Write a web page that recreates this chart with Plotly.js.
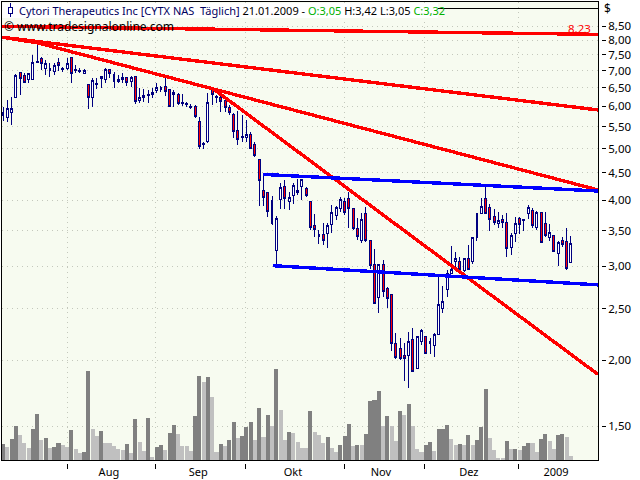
<!DOCTYPE html>
<html><head><meta charset="utf-8">
<script src="https://cdn.plot.ly/plotly-3.0.1.min.js"></script>
<style>html,body{margin:0;padding:0;background:#fff}#c{width:640px;height:480px}
.main-svg .trace path, .main-svg .shapelayer path{shape-rendering:crispEdges !important}</style>
</head><body><div id="c"></div>
<script>
const open_ = [5.84,5.73,5.84,6.25,6.95,6.85,6.75,6.75,7.30,7.40,
7.08,7.00,6.98,7.26,7.07,7.06,7.43,7.04,7.02,6.93,
6.60,6.25,6.64,6.78,6.73,7.03,6.89,6.75,6.73,6.81,
6.68,6.83,6.17,6.28,6.32,6.31,6.42,6.50,6.55,6.47,
6.31,6.33,6.11,6.08,6.01,6.01,5.63,5.12,5.15,6.42,
6.26,6.24,6.15,5.98,5.80,5.40,5.27,5.24,5.32,5.08,
4.77,4.16,4.14,4.00,3.21,4.01,4.24,3.97,4.08,4.16,
4.24,4.21,3.98,3.59,3.44,3.44,3.46,3.60,3.74,3.85,
3.98,4.02,3.85,3.54,3.36,3.77,3.35,3.02,2.62,3.02,
2.73,2.66,2.15,2.10,2.04,2.04,2.19,1.93,2.17,2.21,
2.17,2.13,2.23,2.50,2.72,2.91,3.06,3.06,2.95,3.10,
3.07,3.40,3.78,4.03,3.87,3.72,3.62,3.68,3.63,3.25,
3.46,3.70,3.68,3.78,3.83,3.55,3.79,3.62,3.40,3.43,
3.17,3.36,3.34,3.05];
const high = [5.98,6.17,6.26,6.91,6.98,6.95,6.95,7.50,7.90,7.45,
7.34,7.23,7.23,7.40,7.12,7.40,7.45,7.18,7.08,7.06,
6.61,6.78,6.78,6.85,7.08,7.05,6.98,6.88,6.93,6.83,
6.85,6.85,6.51,6.46,6.44,6.51,6.63,6.55,6.83,6.48,
6.44,6.35,6.33,6.13,6.07,6.03,5.74,5.15,6.35,6.48,
6.31,6.40,6.22,6.04,5.82,5.88,5.78,5.66,5.37,5.14,
4.78,4.46,4.15,4.07,3.73,4.30,4.37,4.15,4.30,4.39,
4.39,4.24,3.99,3.77,3.51,3.62,3.62,3.91,3.89,4.05,
4.03,4.15,3.86,3.70,3.78,3.88,3.35,3.23,3.02,3.08,
2.75,2.66,2.25,2.20,2.15,2.26,2.30,2.21,2.29,2.21,
2.20,2.25,2.86,2.76,2.96,3.28,3.19,3.12,3.10,3.29,
3.41,3.77,4.03,4.25,3.94,3.84,3.79,3.75,3.78,3.47,
3.71,3.72,3.69,3.91,3.87,3.82,3.80,3.80,3.60,3.43,
3.35,3.41,3.55,3.42];
const low = [5.64,5.62,5.54,6.22,6.31,6.63,6.63,6.73,7.23,7.03,
6.88,6.83,6.88,7.01,6.98,7.03,6.63,6.95,6.93,6.91,
5.93,5.99,6.48,6.51,6.63,6.78,6.51,6.65,6.65,6.55,
6.53,6.07,6.09,6.13,6.09,6.22,6.35,6.40,6.28,5.98,
5.99,6.04,6.01,5.98,5.93,5.71,5.00,5.00,5.13,6.04,
6.09,5.87,5.87,5.78,5.24,5.08,5.14,5.14,4.99,4.82,
3.90,3.90,3.71,3.59,3.00,3.84,3.84,3.83,3.94,4.09,
4.00,4.06,3.52,3.41,3.31,3.29,3.25,3.47,3.67,3.80,
3.75,3.55,3.52,3.36,3.32,3.33,2.97,2.55,2.45,2.63,
2.51,2.08,2.01,2.00,1.83,1.77,1.90,1.92,2.13,2.05,
2.05,2.03,2.23,2.45,2.63,2.90,2.95,2.95,2.93,2.95,
3.03,3.35,3.77,3.77,3.50,3.59,3.54,3.55,3.13,3.15,
3.33,3.45,3.50,3.68,3.55,3.52,3.33,3.41,3.35,3.19,
3.00,3.27,2.96,3.05];
const close_ = [5.78,5.95,5.95,6.85,6.78,6.65,6.91,7.26,7.27,7.23,
7.23,7.08,7.18,7.16,7.04,7.23,6.93,7.01,6.99,7.00,
6.25,6.70,6.61,6.83,7.05,6.93,6.68,6.68,6.80,6.66,
6.81,6.13,6.24,6.25,6.29,6.38,6.51,6.47,6.40,5.99,
6.38,6.07,6.08,6.05,5.98,5.74,5.04,5.09,6.11,6.31,
6.23,6.13,5.97,5.84,5.38,5.21,5.24,5.32,5.01,4.85,
4.35,4.04,3.80,3.61,3.69,4.23,4.03,4.05,4.26,4.14,
4.37,4.08,3.55,3.52,3.42,3.36,3.58,3.79,3.87,4.01,
3.79,3.85,3.54,3.41,3.67,3.35,3.01,2.56,3.02,2.69,
2.61,2.15,2.02,2.01,2.01,2.17,1.90,2.21,2.27,2.06,
2.15,2.23,2.54,2.58,2.91,2.96,3.10,2.96,3.10,2.96,
3.40,3.77,3.89,3.78,3.67,3.63,3.66,3.63,3.24,3.43,
3.62,3.60,3.66,3.88,3.58,3.79,3.33,3.43,3.48,3.20,
3.33,3.30,2.97,3.32];
// volume readings in arbitrary units, D = dark bar, L = light bar
const volume = [48,40,63,102,75,51,36,93,138,60,66,36,39,51,45,39,90,33,21,24,267,93,72,87,51,51,42,33,30,48,
21,123,54,27,126,9,39,45,30,81,105,78,42,42,27,132,252,234,249,189,24,48,42,60,114,66,72,99,114,60,
156,69,135,102,273,150,60,84,81,54,36,36,147,84,75,51,69,36,24,45,72,108,42,45,45,78,177,180,207,102,
132,102,57,147,135,168,102,33,24,45,54,27,93,93,105,63,45,48,45,75,45,60,99,213,66,30,6,6,57,33,
33,30,42,51,51,24,63,78,57,33,75,78,69,12];
const volumeTone = "DLDDLLLDDLDLDDLLDLLDDLLDLLLLLDLDLLDLDDLDDLLLLDDLDLLDLDDLDDDLDLDLDLLDLLLLDLLLDLLDDDLDLDDDDLDLLDLDLLLDDLDDDLLDLDLDDDLLLLDLDLDDLLDDLLDDLL";
const priceTicks = [8.5,8,7.5,7,6.5,6,5.5,5,4.5,4,3.5,3,2.5,2,1.5];
const priceLabels = ["8,50","8,00","7,50","7,00","6,50","6,00","5,50","5,00","4,50","4,00","3,50","3,00","2,50","2,00","1,50"];
const monthStarts = [15,35.8,56.9,79.9,98.8,120.8];
const monthCentres = [24.8,45.7,67.9,88.5,109.1,129.5];
const monthLabels = ["Aug","Sep","Okt","Nov","Dez","2009"];
const redLineA = {x:[-0.23,139.3], y:[8.49,8.20]};
const redLineB = {x:[-0.23,139.3], y:[8.10,5.91]};
const redLineC = {x:[-0.23,8.2,139.3], y:[8.10,7.90,4.18]};
const redLineD = {x:[49.3,139.3], y:[6.47,1.88]};
const blueLineA = {x:[60.8,139.3], y:[4.47,4.16]};
const blueLineB = {x:[63.2,139.3], y:[3.01,2.77]};

const index = open_.map((_, i) => i);
const xRange = [-0.234, 139.34];
const yRange = [0.1129, 0.9747];
const FONT = "'Noto Sans', Tahoma, sans-serif";
const px = v => (v - 2) / 596, py = v => (460 - v) / 458;
const line = (l, c, w) => ({type:'scatter', mode:'lines', x:l.x, y:l.y, xaxis:'x2', yaxis:'y2',
  line:{color:c, width:w}, hoverinfo:'skip', showlegend:false});

const traces = [
  {type:'bar', x:index, y:volume, width:0.95, xaxis:'x', yaxis:'y',
   marker:{color:[...volumeTone].map(t => t === 'D' ? '#808080' : '#C0C0C0'), line:{width:0}}, showlegend:false},
  {type:'candlestick', x:index, open:open_, high:high, low:low, close:close_, xaxis:'x2', yaxis:'y2',
   whiskerwidth:0, showlegend:false,
   increasing:{line:{color:'#000080', width:1}, fillcolor:'#FFFFFF'},
   decreasing:{line:{color:'#000080', width:1}, fillcolor:'#FF0000'}},
  line(redLineA,'#FF0000',3.4), line(redLineB,'#FF0000',3.4), line(redLineC,'#FF0000',3.4), line(redLineD,'#FF0000',3.4),
  line(blueLineA,'#0000FF',3.4), line(blueLineB,'#0000FF',3.4)
];
const rect = (x0,y0,x1,y1,fill,border) => ({type:'rect', xref:'paper', yref:'paper', layer:'above',
  x0:px(x0), x1:px(x1), y0:py(y0), y1:py(y1), fillcolor:fill, line:{width:border?1:0, color:border||fill}});
const seg = (x0,y0,x1,y1,c) => ({type:'line', xref:'paper', yref:'paper', layer:'above',
  x0:px(x0), x1:px(x1), y0:py(y0), y1:py(y1), line:{width:1, color:c}});
const note = (x, y, text, size, color, anchor) => ({xref:'paper', yref:'paper', x:px(x), y:py(y), text,
  showarrow:false, xanchor:anchor||'left', yanchor:'middle', align:'left', borderpad:0,
  font:{family:FONT, size, color}});
const G = '#00B000';
const layout = {
  width:640, height:480, margin:{l:2, r:42, t:2, b:20},
  paper_bgcolor:'#FFFFFF', plot_bgcolor:'#F7FBF0', showlegend:false, boxgap:0.35,
  bargap:0.05,
  xaxis:{range:xRange, tickmode:'array', tickvals:monthStarts, ticktext:monthStarts.map(()=>''),
    ticks:'outside', ticklen:8, tickcolor:'#000', showgrid:true, gridcolor:'#C4C8BC', griddash:'1px 4px',
    showline:true, mirror:true, linecolor:'#000', linewidth:1, zeroline:false},
  yaxis:{range:[0,1374], showgrid:false, zeroline:false, showticklabels:false, ticks:'',
    showline:true, mirror:true, linecolor:'#000', linewidth:1},
  xaxis2:{range:xRange, overlaying:'x', anchor:'y', tickmode:'array', tickvals:monthCentres, ticktext:monthLabels,
    ticks:'outside', ticklen:2, tickcolor:'rgba(0,0,0,0)', showgrid:false, zeroline:false,
    rangeslider:{visible:false}, tickfont:{family:FONT, size:11, color:'#000'}},
  yaxis2:{type:'log', range:yRange, overlaying:'y', side:'right', anchor:'x', tickmode:'array',
    tickvals:priceTicks, ticktext:priceLabels, ticks:'outside', ticklen:7, tickcolor:'#000',
    showgrid:true, gridcolor:'#C4C8BC', griddash:'1px 4px', zeroline:false,
    tickfont:{family:FONT, size:11.5, color:'#000'}},
  shapes:[
    rect(2,2.5,438,17.5,'#FFFFFF'),
    seg(438,8,598,8,'#000000'),
    rect(598.6,2,601.5,460,'#FFFFFF'),
    rect(2,460.8,598,463.5,'#FFFFFF'),
    seg(10,3,10,17,'#000080'), rect(8,7,12.5,13,'#FFFFFF','#000080')
  ],
  annotations:[
    note(18,10,'<span style="color:#000060">Cytori Therapeutics Inc [CYTX NAS  Täglich]</span> 21.01.2009 - <span style="color:'+G+'">O:3,05</span> H:3,42 L:3,05 <span style="color:'+G+'">C:3,32</span>',11,'#000'),
    note(3,26,'© www.tradesignalonline.com',12,'#000'),
    note(592,28,'8,23',11.5,'#FF0000','right'),
    note(603,9,'$',12,'#000')
  ]
};
Plotly.newPlot('c', traces, layout, {displayModeBar:false, staticPlot:true});
</script></body></html>
